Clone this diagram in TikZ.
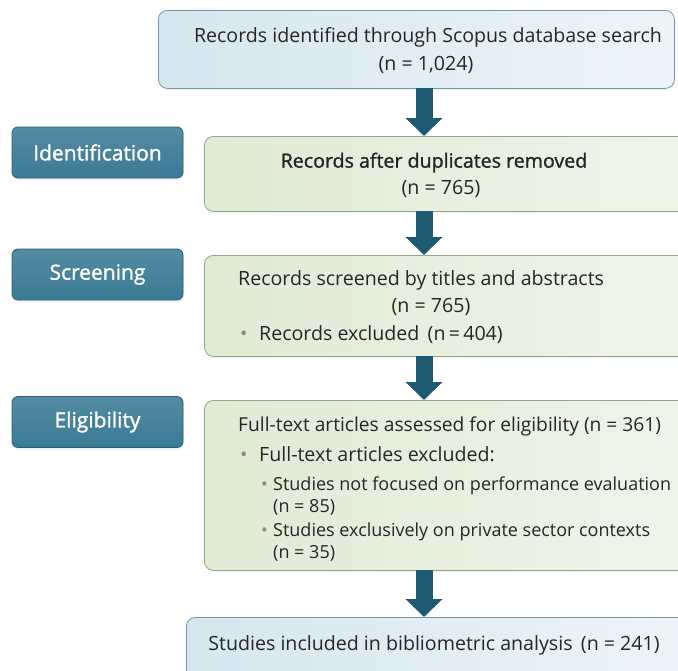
\documentclass[tikz,border=0pt]{standalone}
\usepackage{fontspec}
\setmainfont{Open Sans}
\newfontfamily\semib[FakeBold=1.3]{Open Sans}
\usepackage{xcolor}
\usetikzlibrary{arrows.meta,shadows}

\definecolor{stagefill}{HTML}{3B7B95}
\definecolor{stageline}{HTML}{2A5E74}
\definecolor{bluefill}{HTML}{D6E7EF}
\definecolor{blueline}{HTML}{7199AA}
\definecolor{greenfill}{HTML}{E0EAD4}
\definecolor{greenline}{HTML}{92A884}
\definecolor{flowcol}{HTML}{1E5B73}
\definecolor{inktext}{HTML}{262626}
\definecolor{dotgray}{HTML}{8A8A8A}

\newcommand{\bul}{\makebox[19pt][l]{\textcolor{dotgray}{\textbullet}}}
\newcommand{\subbul}{\makebox[12pt][l]{\textcolor{dotgray}{\textbullet}}}

\begin{document}
\begin{tikzpicture}[
  x=1pt,y=-1pt,
  font=\fontsize{19.6}{24}\selectfont,text=inktext,
  stage/.style={draw=stageline,line width=0.8pt,rounded corners=6pt,
    top color=stagefill!88!white,bottom color=stagefill,
    text=white,font=\semib\fontsize{21}{24}\selectfont,
    minimum width=171pt,minimum height=51pt,
    drop shadow={opacity=0.12,shadow xshift=1pt,shadow yshift=-2pt}},
  bluebox/.style={draw=blueline,line width=0.8pt,rounded corners=9pt,
    left color=bluefill,right color=bluefill!45!white,
    drop shadow={opacity=0.1,shadow xshift=1pt,shadow yshift=-2pt}},
  greenbox/.style={draw=greenline,line width=0.8pt,rounded corners=9pt,
    left color=greenfill,right color=greenfill!50!white,
    drop shadow={opacity=0.1,shadow xshift=1pt,shadow yshift=-2pt}},
  line/.style={anchor=mid west,inner sep=0pt,yshift=-5pt},
  cline/.style={anchor=mid,inner sep=0pt,yshift=-5pt},
  small/.style={font=\fontsize{18}{21}\selectfont,yshift=1.5pt},
  flow/.style={draw=flowcol,line width=17pt,-{Triangle[width=36pt,length=18pt]}}
]
\path[use as bounding box] (0,0) rectangle (678,670);

% boxes of the flow
\node[bluebox,anchor=north west,minimum width=516pt,minimum height=78pt] (search) at (158,10) {};
\node[greenbox,anchor=north west,minimum width=490pt,minimum height=75pt] (dedup) at (204,136) {};
\node[greenbox,anchor=north west,minimum width=490pt,minimum height=101pt] (screen) at (204,255) {};
\node[greenbox,anchor=north west,minimum width=490pt,minimum height=170pt] (elig) at (204,400) {};
\node[bluebox,anchor=north west,minimum width=508pt,minimum height=70pt] (incl) at (186,617) {};

% stage labels
\node[stage] (identlab) at (97.5,152.5) {Identification};
\node[stage] (screenlab) at (97.5,274.5) {Screening};
\node[stage] (eliglab) at (97.5,422) {Eligibility};

% texts
\node[cline] (t1a) at (428,35) {Records identified through Scopus database search};
\node[cline] (t1b) at (426,63) {(n = 1,024)};
\node[cline,font=\semib\fontsize{19.6}{24}\selectfont] (t2a) at (434,160) {Records after duplicates removed};
\node[cline] (t2b) at (441,187) {(n = 765)};
\node[line] (t3a) at (238,278) {Records screened by titles and abstracts};
\node[cline] (t3b) at (431,305) {(n = 765)};
\node[line] (t3c) at (240,333) {\bul Records excluded\, (n\,=\,404)};
\node[line,font=\fontsize{19.2}{24}\selectfont] (t4a) at (238,424) {Full-text articles assessed for eligibility (n = 361)};
\node[line] (t4b) at (240,454) {\bul Full-text articles excluded:};
\node[line,small] (t4c) at (261,484) {\subbul Studies not focused on performance evaluation};
\node[line,small] (t4d) at (273,506) {(n = 85)};
\node[line,small] (t4e) at (261,530) {\subbul Studies exclusively on private sector contexts};
\node[line,small] (t4f) at (273,552) {(n = 35)};
\node[cline] (t5a) at (434,643) {Studies included in bibliometric analysis\, (n = 241)};

% arrows
\draw[flow] (424,88) -- (dedup.north -| 424,0);
\draw[flow] (424,211) -- (screen.north -| 424,0);
\draw[flow] (424,356) -- (elig.north -| 424,0);
\draw[flow] (424,570) -- (incl.north -| 424,0);
\end{tikzpicture}
\end{document}
